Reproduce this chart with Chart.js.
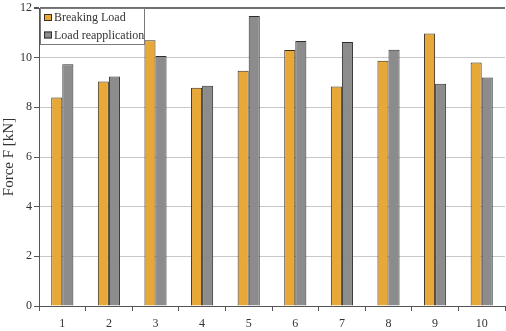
<!DOCTYPE html>
<html>
<head>
<meta charset="utf-8">
<script src="https://cdn.jsdelivr.net/npm/chart.js@4/dist/chart.umd.min.js"></script>
<style>
  html, body { margin: 0; padding: 0; background: #fff; }
  #c { display: block; }
</style>
</head>
<body>
<canvas id="c" width="506" height="331"></canvas>
<script>
const categories = ["1", "2", "3", "4", "5", "6", "7", "8", "9", "10"];
const breakingLoad = [8.4, 9.04, 10.7, 8.79, 9.47, 10.31, 8.84, 9.88, 10.97, 9.81];
const loadReapplication = [9.73, 9.24, 10.07, 8.87, 11.68, 10.67, 10.63, 10.32, 8.95, 9.2];
const yTicks = [0, 2, 4, 6, 8, 10, 12];

const serif = "'Liberation Serif', 'Times New Roman', serif";

// boxed legend in the top-left corner of the plot, as in the figure
const boxLegend = {
  id: "boxLegend",
  afterDraw(chart) {
    const ctx = chart.ctx;
    const a = chart.chartArea;
    const x0 = a.left + 1, y0 = a.top;
    ctx.save();
    ctx.fillStyle = "#fff";
    ctx.fillRect(x0, y0, 105, 37);
    ctx.strokeStyle = "#7a7a7a";
    ctx.lineWidth = 1;
    ctx.strokeRect(x0 + 0.5, y0 + 0.5, 104, 36);
    ctx.font = "12px " + serif;
    ctx.textBaseline = "middle";
    chart.data.datasets.forEach((ds, i) => {
      const cy = y0 + 10 + i * 17.5;
      ctx.fillStyle = ds.backgroundColor;
      ctx.fillRect(x0 + 4, cy - 4, 8, 7);
      ctx.strokeStyle = ds.borderColor;
      ctx.strokeRect(x0 + 4.5, cy - 3.5, 7, 6);
      ctx.fillStyle = "#333";
      ctx.fillText(ds.label, x0 + 14, cy);
    });
    ctx.restore();
  }
};

new Chart(document.getElementById("c"), {
  type: "bar",
  data: {
    labels: categories,
    datasets: [
      {
        label: "Breaking Load",
        data: breakingLoad,
        backgroundColor: "#e8a838",
        borderColor: "#3a3020",
        borderWidth: 1
      },
      {
        label: "Load reapplication",
        data: loadReapplication,
        backgroundColor: "#8c8c8c",
        borderColor: "#2e2e2e",
        borderWidth: 1
      }
    ]
  },
  options: {
    responsive: false,
    animation: false,
    layout: { padding: { top: 0, right: 1, left: 0, bottom: 0 } },
    datasets: {
      bar: { categoryPercentage: 0.475, barPercentage: 1 }
    },
    plugins: {
      tooltip: { enabled: false },
      legend: { display: false }
    },
    scales: {
      x: {
        afterFit(scale) { scale.height = 25; },
        grid: {
          offset: true,
          drawOnChartArea: false,
          drawTicks: true,
          tickLength: 5,
          color: "#555"
        },
        border: { color: "#555", width: 1 },
        ticks: {
          font: { family: serif, size: 12 },
          color: "#333",
          padding: 6,
          maxRotation: 0
        }
      },
      y: {
        min: 0,
        max: 12,
        afterFit(scale) { scale.width = 39; },
        afterBuildTicks(axis) {
          axis.ticks = yTicks.map(v => ({ value: v }));
        },
        grid: {
          color: ctx => (ctx.tick && ctx.tick.value === 12 ? "#707070" : "#c8c8c8"),
          lineWidth: ctx => (ctx.tick && ctx.tick.value === 12 ? 2 : 1),
          tickLength: 5,
          tickColor: "#555"
        },
        border: { color: "#555", width: 1 },
        ticks: {
          font: { family: serif, size: 12, lineHeight: 1 },
          color: "#333",
          padding: 2
        },
        title: {
          display: true,
          text: "Force F [kN]",
          font: { family: serif, size: 15 },
          color: "#333",
          padding: 0
        }
      }
    }
  },
  plugins: [boxLegend]
});
</script>
</body>
</html>
